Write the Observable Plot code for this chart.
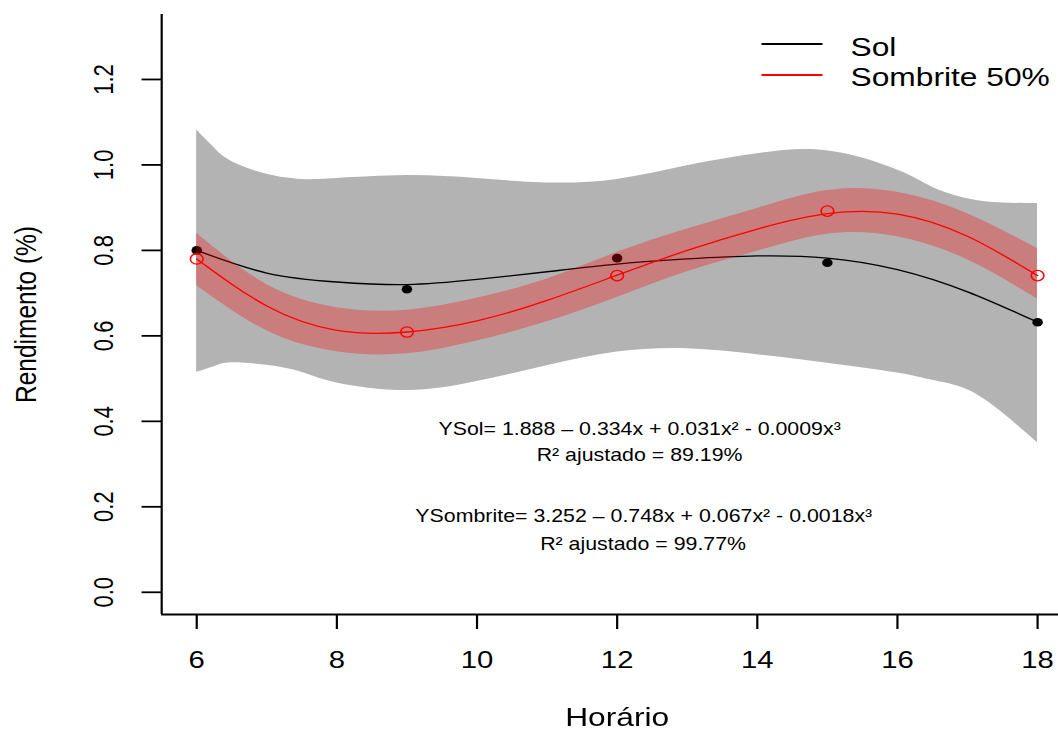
<!DOCTYPE html>
<html><head><meta charset="utf-8">
<script src="https://cdn.jsdelivr.net/npm/d3@7"></script>
<script src="https://cdn.jsdelivr.net/npm/@observablehq/plot@0.6"></script>
<style>
html,body{margin:0;padding:0;background:#fff;overflow:hidden;}
#wrap{position:relative;width:867px;height:731px;transform:scaleX(1.2203);transform-origin:0 0;font-family:"Liberation Sans",Arial,sans-serif;}
.lg-line{position:absolute;height:1.5px;width:50px;}
.lg-text{position:absolute;font-size:26px;line-height:26px;color:#000;white-space:nowrap;}
</style></head><body><div id="wrap"></div>
<script>
// observed values
const hours = [6, 9, 12, 15, 18];
const solObs = [0.800, 0.709, 0.782, 0.771, 0.632];
const sombriteObs = [0.780, 0.609, 0.741, 0.892, 0.741];

// fitted curves
const fitHours = [6, 7, 8, 9, 10, 11, 12, 13, 14, 15, 16, 17, 18];
const solFit = [0.800, 0.747, 0.726, 0.720, 0.732, 0.750, 0.768, 0.780, 0.787, 0.782, 0.755, 0.703, 0.632];
const sombriteFit = [0.780, 0.670, 0.613, 0.609, 0.635, 0.683, 0.742, 0.800, 0.850, 0.886, 0.885, 0.833, 0.741];
const sombriteLower = [0.718, 0.612, 0.563, 0.558, 0.588, 0.633, 0.690, 0.750, 0.798, 0.838, 0.832, 0.778, 0.686];
const sombriteUpper = [0.840, 0.720, 0.666, 0.660, 0.688, 0.733, 0.795, 0.850, 0.898, 0.940, 0.936, 0.886, 0.804];

// confidence band for Sol
const bandHours = [6, 6.25, 6.5, 7, 7.5, 8, 9, 10, 11, 12, 13, 14, 15, 16, 16.5, 17, 17.5, 18];
const solLower = [0.515, 0.528, 0.537, 0.531, 0.515, 0.490, 0.472, 0.493, 0.530, 0.562, 0.570, 0.556, 0.536, 0.513, 0.496, 0.474, 0.420, 0.350];
const solUpper = [1.082, 1.040, 1.008, 0.978, 0.966, 0.968, 0.975, 0.968, 0.958, 0.966, 0.998, 1.026, 1.033, 0.988, 0.948, 0.921, 0.911, 0.910];

// ticks and labels
const xTicks = [6, 8, 10, 12, 14, 16, 18];
const yTicks = [0, 0.2, 0.4, 0.6, 0.8, 1.0, 1.2];
const xLabel = "Horário";
const yLabel = "Rendimento (%)";
const seriesNames = ["Sol", "Sombrite 50%"];
const seriesColors = ["#000000", "#ff0000"];
const annotationTexts = [
  "YSol= 1.888 – 0.334x + 0.031x² - 0.0009x³",
  "R² ajustado = 89.19%",
  "YSombrite= 3.252 – 0.748x + 0.067x² - 0.0018x³",
  "R² ajustado = 99.77%"
];

const fitData = fitHours.map((h, i) => ({h, sol: solFit[i], som: sombriteFit[i], lo: sombriteLower[i], hi: sombriteUpper[i]}));
const bandData = bandHours.map((h, i) => ({h, lo: solLower[i], hi: solUpper[i]}));
const obs = hours.map((h, i) => ({h, sol: solObs[i], som: sombriteObs[i]}));

const FONT = "'Liberation Sans', Arial, Helvetica, sans-serif";
const note = (t, x, y) => Plot.text([t], {x: () => x, y: () => y, text: d => d, fontSize: 17.5, lineAnchor: "bottom", fill: "#000"});

const chart = Plot.plot({
  width: 867, height: 731,
  marginLeft: 132, marginRight: 0, marginTop: 14, marginBottom: 117,
  x: {domain: [5.5, 18.3]},
  y: {domain: [-0.052, 1.352]},
  style: {fontFamily: FONT, background: "#fff", color: "#000", overflow: "visible"},
  marks: [
    Plot.areaY(bandData, {x: "h", y1: "lo", y2: "hi", fill: "#b3b3b3", curve: "natural"}),
    Plot.line(fitData, {x: "h", y: "sol", stroke: seriesColors[0], strokeWidth: 1.3, curve: "natural"}),
    Plot.dot(obs, {x: "h", y: "sol", r: 4.3, fill: "#000", stroke: "none"}),
    Plot.areaY(fitData, {x: "h", y1: "lo", y2: "hi", fill: "#ff0000", fillOpacity: 0.3, curve: "natural"}),
    Plot.line(fitData, {x: "h", y: "som", stroke: seriesColors[1], strokeWidth: 1.3, curve: "natural"}),
    Plot.dot(obs, {x: "h", y: "som", r: 5.2, stroke: "#ff0000", strokeWidth: 1.3, fill: "none"}),
    Plot.ruleX([5.5], {stroke: "#000", strokeWidth: 1.8}),
    Plot.ruleY([-0.052], {stroke: "#000", strokeWidth: 1.8}),
    Plot.axisX({ticks: xTicks, tickSize: 15, tickPadding: 21, fontSize: 24, tickFormat: d => String(d), strokeWidth: 1.8, label: null}),
    Plot.axisY({ticks: yTicks, tickSize: 16, tickPadding: 24, tickRotate: -90, fontSize: 22, tickFormat: d3.format(".1f"), strokeWidth: 1.8, label: null}),
    Plot.text([xLabel], {x: () => 12, frameAnchor: "bottom", dy: 111, lineAnchor: "bottom", fontSize: 26, text: d => d, fill: "#000"}),
    Plot.text([yLabel], {frameAnchor: "left", dx: -110.7, rotate: -90, textAnchor: "middle", lineAnchor: "middle", fontSize: 24.5, text: d => d, fill: "#000"}),
    note(annotationTexts[0], 12.32, 0.367),
    note(annotationTexts[1], 12.32, 0.308),
    note(annotationTexts[2], 12.38, 0.164),
    note(annotationTexts[3], 12.37, 0.098)
  ]
});
const wrap = document.getElementById("wrap");
wrap.appendChild(chart);

// legend (R-style, top right inside the plot region)
const legendTops = [[43.25, 34], [74.25, 63.5]];
seriesNames.forEach((name, i) => {
  const ln = document.createElement("div");
  ln.className = "lg-line";
  ln.style.left = "623.6px";
  ln.style.top = legendTops[i][0] + "px";
  ln.style.background = seriesColors[i];
  wrap.appendChild(ln);
  const tx = document.createElement("div");
  tx.className = "lg-text";
  tx.style.left = "697px";
  tx.style.top = legendTops[i][1] + "px";
  tx.textContent = name;
  wrap.appendChild(tx);
});
const svg = wrap.querySelector("svg");
svg.style.position = "absolute";
svg.style.left = "0";
svg.style.top = "0";
</script></body></html>
